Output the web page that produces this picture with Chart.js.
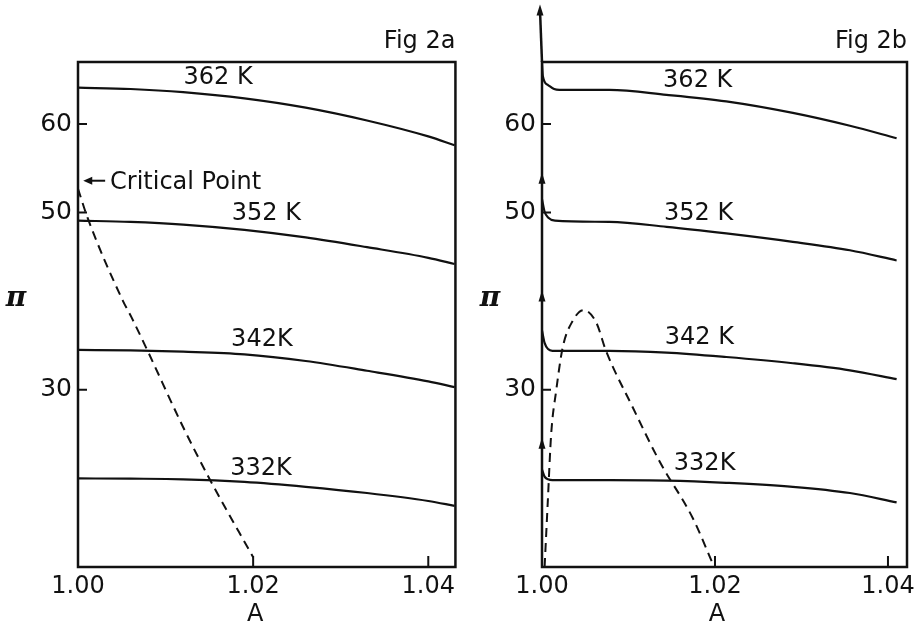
<!DOCTYPE html>
<html>
<head>
<meta charset="utf-8">
<script src="https://cdn.jsdelivr.net/npm/chart.js@4/dist/chart.umd.min.js"></script>
<style>
  body { margin: 0; background: #fff; }
  .panel { position: absolute; top: 0; height: 625px; }
</style>
</head>
<body>
<div class="panel" style="left:0;width:460px"><canvas id="fig2a" width="460" height="625"></canvas></div>
<div class="panel" style="left:460px;width:463px"><canvas id="fig2b" width="463" height="625"></canvas></div>
<script>
// Tick labels
const xTicks = [1.00, 1.02, 1.04];
const yTicks = [30, 50, 60];

// Fig 2a - isotherms (A vs pi)
const leftA = [1.000, 1.006, 1.012, 1.019, 1.026, 1.033, 1.040, 1.043];
const left362 = [64.1, 63.95, 63.6, 62.9, 61.85, 60.4, 58.6, 57.6];
const left352 = [49.1, 48.95, 48.65, 48.05, 47.2, 46.1, 44.9, 44.2];
const left342 = [34.5, 34.45, 34.3, 34.0, 33.25, 32.15, 30.95, 30.3];
const left332 = [20.0, 19.97, 19.9, 19.6, 19.05, 18.35, 17.45, 16.9];
// Fig 2a - dashed line from the critical point
const leftDashA = [1.000, 1.0011, 1.0051, 1.0061, 1.0079, 1.012, 1.0151, 1.020];
const leftDashP = [52.7, 49.4, 40.1, 38.2, 34.5, 25.8, 19.8, 11.1];

// Fig 2b - isotherms with the knee at A = 1
const r362A = [1.0000, 1.0001, 1.0007, 1.0014, 1.0020, 1.0078, 1.0144, 1.0213, 1.0290, 1.0356, 1.0410];
const r362P = [66.9, 65.4, 64.4, 63.95, 63.85, 63.85, 63.3, 62.55, 61.25, 59.8, 58.4];
const r352A = [1.0000, 1.0003, 1.0007, 1.0015, 1.0078, 1.0144, 1.0213, 1.0290, 1.0356, 1.0410];
const r352P = [51.5, 50.1, 49.45, 49.1, 48.95, 48.4, 47.65, 46.7, 45.75, 44.6];
const r342A = [1.0000, 1.0003, 1.0007, 1.0012, 1.0078, 1.0144, 1.0213, 1.0290, 1.0356, 1.0410];
const r342P = [36.7, 35.3, 34.6, 34.4, 34.4, 34.2, 33.7, 33.0, 32.2, 31.2];
const r332A = [1.0000, 1.0003, 1.0007, 1.0012, 1.0078, 1.0144, 1.0213, 1.0290, 1.0356, 1.0410];
const r332P = [21.0, 20.2, 19.9, 19.8, 19.8, 19.75, 19.5, 19.05, 18.35, 17.3];
// Fig 2b - dashed hump
const rDashA = [1.0003, 1.00067, 1.00106, 1.00164, 1.0024, 1.00356, 1.0048, 1.00627, 1.0074, 1.0105, 1.0136, 1.01744, 1.0199];
const rDashP = [10, 17.4, 25, 29.9, 34.8, 37.8, 39.0, 37.6, 34.4, 28.0, 21.9, 15.5, 10];
// arrows along the A = 1 axis in Fig 2b (pi values)
const axisArrows = [73.5, 54.5, 41.2, 24.6];

const FONT = '"DejaVu Sans", sans-serif';

function pts(xs, ys) {
    return xs.map((x, i) => ({ x: x, y: ys[i] }));
}

function solid(data) {
    return { data: data, borderColor: '#111', borderWidth: 2.2, pointRadius: 0,
             fill: false, cubicInterpolationMode: 'monotone' };
}

function dashed(data) {
    return { data: data, borderColor: '#111', borderWidth: 2, pointRadius: 0,
             fill: false, borderDash: [9, 6], cubicInterpolationMode: 'monotone' };
}

// draws frame, inward ticks, labels and arrows
function decorPlugin(cfg) {
    return {
        id: 'decor',
        afterDraw(chart) {
            const ctx = chart.ctx;
            const area = chart.chartArea;
            const xs = chart.scales.x, ys = chart.scales.y;
            ctx.save();
            ctx.strokeStyle = '#111';
            ctx.fillStyle = '#111';
            ctx.lineWidth = 2.5;
            ctx.strokeRect(area.left, area.top, area.right - area.left, area.bottom - area.top);

            // inward ticks
            ctx.lineWidth = 2;
            ctx.beginPath();
            yTicks.forEach(v => {
                const y = ys.getPixelForValue(v);
                ctx.moveTo(area.left, y);
                ctx.lineTo(area.left + 9, y);
            });
            xTicks.forEach(v => {
                const x = xs.getPixelForValue(v);
                ctx.moveTo(x, area.bottom);
                ctx.lineTo(x, area.bottom - 11);
            });
            ctx.stroke();

            // curve labels
            ctx.font = '24px ' + FONT;
            ctx.textBaseline = 'middle';
            cfg.labels.forEach(l => {
                ctx.textAlign = l.align || 'center';
                ctx.fillText(l.text, xs.getPixelForValue(l.a), ys.getPixelForValue(l.p));
            });

            // figure title
            ctx.textAlign = 'right';
            ctx.textBaseline = 'alphabetic';
            ctx.fillText(cfg.title, area.right, area.top - 14);

            // axis titles
            ctx.textAlign = 'center';
            ctx.textBaseline = 'middle';
            ctx.fillText('A', xs.getPixelForValue(1.02) + 2, area.bottom + 48);
            ctx.font = 'bold italic 28px "DejaVu Serif", serif';
            ctx.fillText('\u03c0', area.left - cfg.piOffset, (area.top + area.bottom) / 2 - 16);

            // critical point arrow
            if (cfg.critical) {
                const c = cfg.critical;
                const tx = xs.getPixelForValue(c.tipA), ty = ys.getPixelForValue(c.p);
                const ex = xs.getPixelForValue(c.tailA);
                ctx.lineWidth = 2;
                ctx.beginPath();
                ctx.moveTo(tx + 6, ty);
                ctx.lineTo(ex, ty);
                ctx.stroke();
                ctx.beginPath();
                ctx.moveTo(tx, ty);
                ctx.lineTo(tx + 9, ty - 4);
                ctx.lineTo(tx + 9, ty + 4);
                ctx.closePath();
                ctx.fill();
            }

            // trajectory arrows along the A = 1 axis
            if (cfg.arrows) {
                const x0 = xs.getPixelForValue(1.0);
                const topY = ys.getPixelForValue(cfg.arrows[0]);
                ctx.lineWidth = 2.5;
                ctx.beginPath();
                ctx.moveTo(x0, area.top);
                ctx.lineTo(x0 - 2, topY + 6);
                ctx.stroke();
                cfg.arrows.forEach((v, i) => {
                    const y = ys.getPixelForValue(v);
                    const x = i === 0 ? x0 - 2 : x0;
                    ctx.beginPath();
                    ctx.moveTo(x, y);
                    ctx.lineTo(x - 3.5, y + 11);
                    ctx.lineTo(x + 3.5, y + 11);
                    ctx.closePath();
                    ctx.fill();
                });
            }
            ctx.restore();
        }
    };
}

function makeChart(id, datasets, xMax, yWidth, padRight, cfg) {
    return new Chart(document.getElementById(id), {
        type: 'line',
        data: { datasets: datasets },
        options: {
            responsive: false,
            animation: false,
            devicePixelRatio: 1,
            layout: { padding: { top: 62, right: padRight, left: 0, bottom: 0 } },
            plugins: { legend: { display: false }, tooltip: { enabled: false } },
            scales: {
                x: {
                    type: 'linear', min: 1.0, max: xMax,
                    afterBuildTicks: s => { s.ticks = xTicks.map(v => ({ value: v })); },
                    afterFit: s => { s.height = 58; },
                    grid: { display: false, drawTicks: false },
                    border: { display: false },
                    ticks: { padding: 5, color: '#111', font: { family: FONT, size: 24 },
                             maxRotation: 0, callback: v => v.toFixed(2) }
                },
                y: {
                    type: 'linear', min: 10, max: 67,
                    afterBuildTicks: s => { s.ticks = yTicks.map(v => ({ value: v })); },
                    afterFit: s => { s.width = yWidth; },
                    grid: { display: false, drawTicks: false },
                    border: { display: false },
                    ticks: { padding: 6, color: '#111', font: { family: FONT, size: 25 } }
                }
            }
        },
        plugins: [decorPlugin(cfg)]
    });
}

makeChart('fig2a', [
    solid(pts(leftA, left362)),
    solid(pts(leftA, left352)),
    solid(pts(leftA, left342)),
    solid(pts(leftA, left332)),
    dashed(pts(leftDashA, leftDashP))
], 1.0431, 78, 0, {
    title: 'Fig 2a',
    piOffset: 62,
    labels: [
        { text: '362 K', a: 1.016, p: 65.2 },
        { text: '352 K', a: 1.0215, p: 49.9 },
        { text: '342K', a: 1.021, p: 35.7 },
        { text: '332K', a: 1.0209, p: 21.1 },
        { text: 'Critical Point', a: 1.00366, p: 53.4, align: 'left' }
    ],
    critical: { tipA: 1.0006, tailA: 1.0031, p: 53.6 }
});

makeChart('fig2b', [
    solid(pts(r362A, r362P)),
    solid(pts(r352A, r352P)),
    solid(pts(r342A, r342P)),
    solid(pts(r332A, r332P)),
    dashed(pts(rDashA, rDashP))
], 1.0422, 82, 16, {
    title: 'Fig 2b',
    piOffset: 52,
    labels: [
        { text: '362 K', a: 1.018, p: 64.9 },
        { text: '352 K', a: 1.0181, p: 49.9 },
        { text: '342 K', a: 1.0182, p: 35.9 },
        { text: '332K', a: 1.0188, p: 21.6 }
    ],
    arrows: axisArrows
});
</script>
</body>
</html>
